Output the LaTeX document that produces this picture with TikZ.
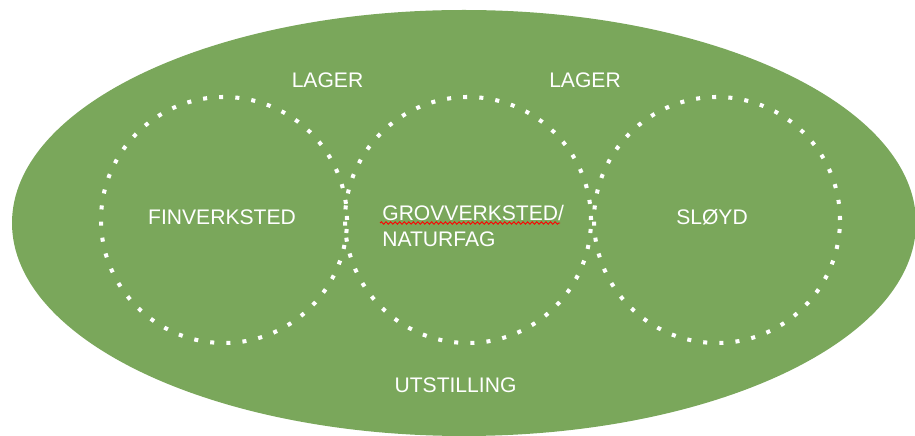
\documentclass[tikz,border=0pt]{standalone}
\usepackage{fontspec}
\setmainfont{Liberation Sans}
\usetikzlibrary{decorations.pathmorphing}
\definecolor{feltgronn}{RGB}{122,167,91}

\begin{document}
\begin{tikzpicture}[every node/.style={text=white,inner sep=0pt,
      font=\fontsize{12}{14.8}\selectfont},
      prikk/.style={white,line width=2.3pt,dash pattern=on 2.3pt off 6.9pt}]
    \useasboundingbox(0,0)rectangle(18.3,8.72);
    \fill[feltgronn](9.28,4.26)ellipse(9.04 and 4.26);
    \foreach \x in {4.48,9.36,14.34}
      \draw[prikk](\x,4.32)circle(2.46);
    \node(lager1) at (6.55,7.12){LAGER};
    \node(lager2) at (11.7,7.12){LAGER};
    \node(fin) at (4.44,4.38){FINVERKSTED};
    \node(grov)[anchor=west,align=left] at (7.64,4.2){GROVVERKSTED/\\NATURFAG};
    \node(sloyd) at (14.24,4.38){SLØYD};
    \node(utst) at (9.11,1.02){UTSTILLING};
    \draw[red,line width=0.5pt,decorate,
      decoration={snake,amplitude=0.7pt,segment length=2.6pt}](7.6,4.26)--(11.2,4.26);
  \end{tikzpicture}
\end{document}
